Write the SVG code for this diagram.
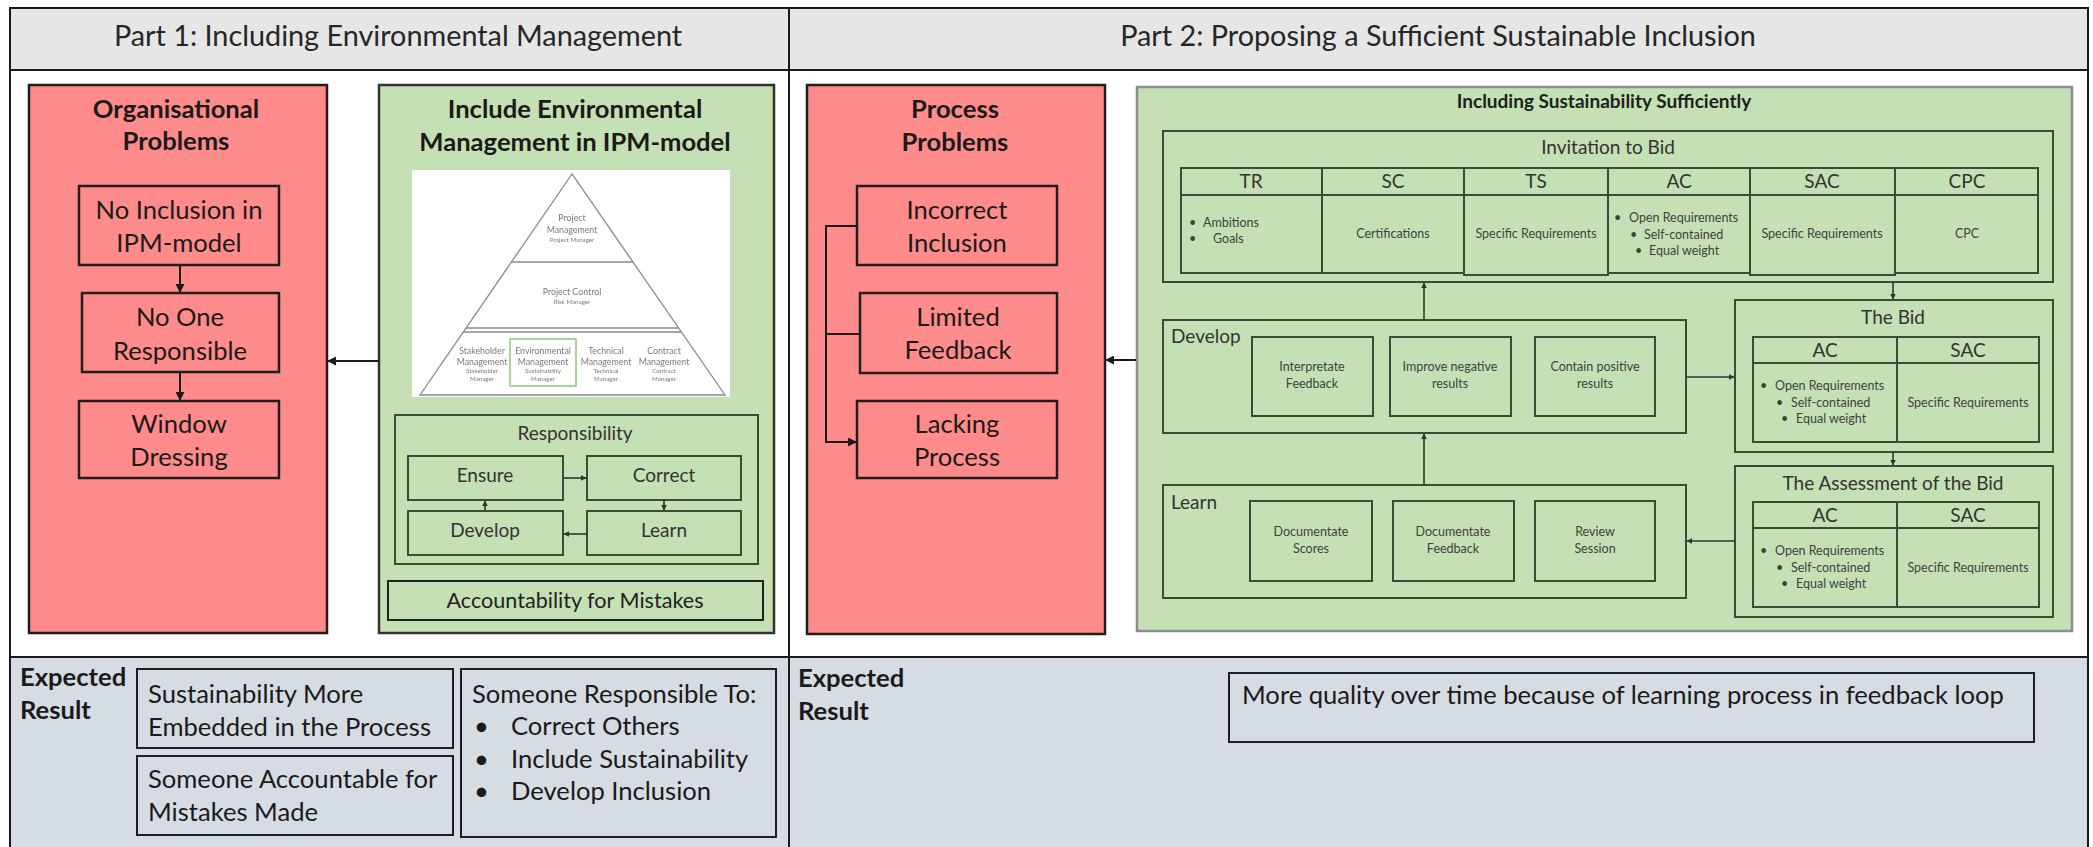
<svg xmlns="http://www.w3.org/2000/svg" width="2093" height="847" viewBox="0 0 2093 847">
  <defs>
    <style>
      text { font-family: Lato, "Liberation Sans", sans-serif; fill: #1a1a1a; }
      .hdr { font-size: 28.8px; fill: #262626; text-anchor: middle; }
      .big { font-size: 25.6px; text-anchor: middle; }
      .bigl { font-size: 25.6px; }
      .bold { font-weight: bold; }
      .med { font-size: 19px; fill: #333333; text-anchor: middle; }
      .medl { font-size: 19px; fill: #333333; }
      .sm { font-size: 12.5px; fill: #404040; text-anchor: middle; }
      .sml { font-size: 12.5px; fill: #404040; }
      .py { font-size: 8.8px; fill: #7a7a7a; text-anchor: middle; }
      .pys { font-size: 6.2px; fill: #7a7a7a; text-anchor: middle; }
      .red { fill: #FF8B8B; stroke: #1f1f1f; stroke-width: 2.5; }
      .rbox { fill: none; stroke: #1f1f1f; stroke-width: 2.5; }
      .grn { fill: #C5E0B4; stroke: #333333; stroke-width: 2.5; }
      .gbox { fill: none; stroke: #3d4a3a; stroke-width: 2; }
      .ebox { fill: none; stroke: #1f1f1f; stroke-width: 2; }
      .conn { fill: none; stroke: #1a1a1a; stroke-width: 2; marker-end: url(#ah); }
      .conns { fill: none; stroke: #333333; stroke-width: 1.6; marker-end: url(#ahs); }
      .pyl { fill: none; stroke: #8a8a8a; stroke-width: 1.3; }
    </style>
    <marker id="ah" viewBox="0 0 10 10" refX="9" refY="5" markerWidth="9" markerHeight="9" markerUnits="userSpaceOnUse" orient="auto">
      <path d="M0,0 L10,5 L0,10 z" fill="#1a1a1a"/>
    </marker>
    <marker id="ahs" viewBox="0 0 10 10" refX="9" refY="5" markerWidth="6" markerHeight="6" markerUnits="userSpaceOnUse" orient="auto">
      <path d="M0,0 L10,5 L0,10 z" fill="#333333"/>
    </marker>
    <filter id="soft" x="-5%" y="-5%" width="110%" height="110%">
      <feGaussianBlur stdDeviation="0.35"/>
    </filter>
  </defs>

  <!-- frame, header band and expected-result band -->
  <g id="frame">
    <rect x="10" y="8" width="2078" height="840" fill="#ffffff" stroke="#1a1a1a" stroke-width="2"/>
    <rect x="10" y="8" width="2078" height="62" fill="#E7E6E6" stroke="#1a1a1a" stroke-width="2"/>
    <rect x="10" y="657" width="2078" height="192" fill="#D6DCE4" stroke="#1a1a1a" stroke-width="2"/>
    <line x1="789" y1="8" x2="789" y2="847" stroke="#1a1a1a" stroke-width="2"/>
    <text class="hdr" x="398" y="46">Part 1: Including Environmental Management</text>
    <text class="hdr" x="1438" y="46">Part 2: Proposing a Sufficient Sustainable Inclusion</text>
  </g>

  <!-- Part 1: organisational problems -->
  <g id="org-problems">
    <rect class="red" x="29" y="85" width="298" height="548"/>
    <text class="big bold" x="176" y="118">Organisational</text>
    <text class="big bold" x="176" y="150">Problems</text>
  </g>
  <g id="no-inclusion">
    <rect class="rbox" x="79" y="186" width="200" height="79"/>
    <text class="big" x="179" y="219">No Inclusion in</text>
    <text class="big" x="179" y="252">IPM-model</text>
  </g>
  <g id="no-one-responsible">
    <rect class="rbox" x="82" y="293" width="197" height="79"/>
    <text class="big" x="180" y="326">No One</text>
    <text class="big" x="180" y="360">Responsible</text>
  </g>
  <g id="window-dressing">
    <rect class="rbox" x="79" y="401" width="200" height="77"/>
    <text class="big" x="179" y="433">Window</text>
    <text class="big" x="179" y="466">Dressing</text>
  </g>

  <!-- Part 1: environmental management in the IPM-model -->
  <g id="include-env">
    <rect class="grn" x="379" y="85" width="395" height="548"/>
    <text class="big bold" x="575" y="118">Include Environmental</text>
    <text class="big bold" x="575" y="151">Management in IPM-model</text>
  </g>
  <g id="ipm-pyramid" filter="url(#soft)">
    <rect x="412" y="170" width="318" height="227" fill="#ffffff"/>
    <polygon class="pyl" points="572,174 420,395 725,395"/>
    <line class="pyl" x1="511" y1="262" x2="633" y2="262"/>
    <line class="pyl" x1="466" y1="328" x2="678" y2="328"/>
    <line class="pyl" x1="463" y1="332" x2="681" y2="332"/>
    <rect x="510" y="339" width="66" height="47" fill="none" stroke="#8fc97a" stroke-width="1.5"/>
    <text class="py" x="572" y="221">Project</text>
    <text class="py" x="572" y="233">Management</text>
    <text class="pys" x="572" y="242">Project Manager</text>
    <text class="py" x="572" y="295">Project Control</text>
    <text class="pys" x="572" y="304">Risk Manager</text>
    <text class="py" x="482" y="354">Stakeholder</text>
    <text class="py" x="482" y="365">Management</text>
    <text class="pys" x="482" y="373">Stakeholder</text>
    <text class="pys" x="482" y="381">Manager</text>
    <text class="py" x="543" y="354">Environmental</text>
    <text class="py" x="543" y="365">Management</text>
    <text class="pys" x="543" y="373">Sustainability</text>
    <text class="pys" x="543" y="381">Manager</text>
    <text class="py" x="606" y="354">Technical</text>
    <text class="py" x="606" y="365">Management</text>
    <text class="pys" x="606" y="373">Technical</text>
    <text class="pys" x="606" y="381">Manager</text>
    <text class="py" x="664" y="354">Contract</text>
    <text class="py" x="664" y="365">Management</text>
    <text class="pys" x="664" y="373">Contract</text>
    <text class="pys" x="664" y="381">Manager</text>
  </g>
  <g id="responsibility">
    <rect class="gbox" x="395" y="415" width="363" height="149"/>
    <text class="med" x="575" y="440">Responsibility</text>
  </g>
  <g id="ensure">
    <rect class="gbox" x="408" y="456" width="155" height="44"/>
    <text class="med" x="485" y="482">Ensure</text>
  </g>
  <g id="correct">
    <rect class="gbox" x="587" y="456" width="154" height="44"/>
    <text class="med" x="664" y="482">Correct</text>
  </g>
  <g id="develop-1">
    <rect class="gbox" x="408" y="511" width="155" height="44"/>
    <text class="med" x="485" y="537">Develop</text>
  </g>
  <g id="learn-1">
    <rect class="gbox" x="587" y="511" width="154" height="44"/>
    <text class="med" x="664" y="537">Learn</text>
  </g>
  <g id="accountability">
    <rect class="ebox" x="388" y="581" width="375" height="39" stroke-width="2.5"/>
    <text class="med" x="575" y="608" style="font-size:21.6px;fill:#1f1f1f">Accountability for Mistakes</text>
  </g>

  <!-- Part 2: process problems -->
  <g id="process-problems">
    <rect class="red" x="807" y="85" width="298" height="549"/>
    <text class="big bold" x="955" y="118">Process</text>
    <text class="big bold" x="955" y="151">Problems</text>
  </g>
  <g id="incorrect-inclusion">
    <rect class="rbox" x="857" y="186" width="200" height="79"/>
    <text class="big" x="957" y="219">Incorrect</text>
    <text class="big" x="957" y="252">Inclusion</text>
  </g>
  <g id="limited-feedback">
    <rect class="rbox" x="860" y="293" width="197" height="80"/>
    <text class="big" x="958" y="326">Limited</text>
    <text class="big" x="958" y="359">Feedback</text>
  </g>
  <g id="lacking-process">
    <rect class="rbox" x="857" y="401" width="200" height="77"/>
    <text class="big" x="957" y="433">Lacking</text>
    <text class="big" x="957" y="466">Process</text>
  </g>

  <!-- Part 2: including sustainability sufficiently -->
  <g id="sustainability-panel">
    <rect x="1137" y="87" width="935" height="544" fill="#C5E0B4" stroke="#8c8c8c" stroke-width="2.5"/>
    <text class="med bold" x="1604" y="108" style="fill:#1f1f1f">Including Sustainability Sufficiently</text>
  </g>
  <g id="invitation">
    <rect class="gbox" x="1163" y="131" width="890" height="151"/>
    <text class="med" x="1608" y="154">Invitation to Bid</text>
    <rect class="gbox" x="1181" y="168" width="857" height="27"/>
    <rect class="gbox" x="1181" y="195" width="141" height="78"/>
    <rect class="gbox" x="1322" y="195" width="142" height="78"/>
    <rect class="gbox" x="1464" y="195" width="144" height="80"/>
    <rect class="gbox" x="1608" y="195" width="142" height="78"/>
    <rect class="gbox" x="1750" y="195" width="145" height="80"/>
    <rect class="gbox" x="1895" y="195" width="143" height="78"/>
    <line class="gbox" x1="1322" y1="168" x2="1322" y2="195"/>
    <line class="gbox" x1="1464" y1="168" x2="1464" y2="195"/>
    <line class="gbox" x1="1608" y1="168" x2="1608" y2="195"/>
    <line class="gbox" x1="1750" y1="168" x2="1750" y2="195"/>
    <line class="gbox" x1="1895" y1="168" x2="1895" y2="195"/>
    <text class="med" x="1251" y="188">TR</text>
    <text class="med" x="1393" y="188">SC</text>
    <text class="med" x="1536" y="188">TS</text>
    <text class="med" x="1679" y="188">AC</text>
    <text class="med" x="1822" y="188">SAC</text>
    <text class="med" x="1967" y="188">CPC</text>
    <text class="sml" x="1189" y="227">•</text>
    <text class="sml" x="1203" y="227">Ambitions</text>
    <text class="sml" x="1189" y="243">•</text>
    <text class="sml" x="1213" y="243">Goals</text>
    <text class="sm" x="1393" y="238">Certifications</text>
    <text class="sm" x="1536" y="238">Specific Requirements</text>
    <text class="sml" x="1614" y="222">•</text>
    <text class="sml" x="1629" y="222">Open Requirements</text>
    <text class="sml" x="1630" y="239">•</text>
    <text class="sml" x="1644" y="239">Self-contained</text>
    <text class="sml" x="1635" y="255">•</text>
    <text class="sml" x="1649" y="255">Equal weight</text>
    <text class="sm" x="1822" y="238">Specific Requirements</text>
    <text class="sm" x="1967" y="238">CPC</text>
  </g>
  <g id="develop-2">
    <rect class="gbox" x="1163" y="320" width="523" height="113"/>
    <text class="medl" x="1171" y="343">Develop</text>
    <rect class="gbox" x="1252" y="337" width="121" height="79"/>
    <text class="sm" x="1312" y="371">Interpretate</text>
    <text class="sm" x="1312" y="388">Feedback</text>
    <rect class="gbox" x="1390" y="337" width="121" height="79"/>
    <text class="sm" x="1450" y="371">Improve negative</text>
    <text class="sm" x="1450" y="388">results</text>
    <rect class="gbox" x="1535" y="337" width="120" height="79"/>
    <text class="sm" x="1595" y="371">Contain positive</text>
    <text class="sm" x="1595" y="388">results</text>
  </g>
  <g id="learn-2">
    <rect class="gbox" x="1163" y="485" width="523" height="113"/>
    <text class="medl" x="1171" y="509">Learn</text>
    <rect class="gbox" x="1250" y="501" width="122" height="80"/>
    <text class="sm" x="1311" y="536">Documentate</text>
    <text class="sm" x="1311" y="553">Scores</text>
    <rect class="gbox" x="1393" y="501" width="121" height="80"/>
    <text class="sm" x="1453" y="536">Documentate</text>
    <text class="sm" x="1453" y="553">Feedback</text>
    <rect class="gbox" x="1535" y="501" width="120" height="80"/>
    <text class="sm" x="1595" y="536">Review</text>
    <text class="sm" x="1595" y="553">Session</text>
  </g>
  <g id="the-bid">
    <rect class="gbox" x="1735" y="300" width="318" height="152"/>
    <text class="med" x="1893" y="324">The Bid</text>
    <rect class="gbox" x="1753" y="337" width="286" height="105"/>
    <line class="gbox" x1="1753" y1="363" x2="2039" y2="363"/>
    <line class="gbox" x1="1897" y1="337" x2="1897" y2="442"/>
    <text class="med" x="1825" y="357">AC</text>
    <text class="med" x="1968" y="357">SAC</text>
    <text class="sml" x="1760" y="390">•</text>
    <text class="sml" x="1775" y="390">Open Requirements</text>
    <text class="sml" x="1776" y="407">•</text>
    <text class="sml" x="1791" y="407">Self-contained</text>
    <text class="sml" x="1781" y="423">•</text>
    <text class="sml" x="1796" y="423">Equal weight</text>
    <text class="sm" x="1968" y="407">Specific Requirements</text>
  </g>
  <g id="assessment">
    <rect class="gbox" x="1735" y="466" width="318" height="151"/>
    <text class="med" x="1893" y="490">The Assessment of the Bid</text>
    <rect class="gbox" x="1753" y="502" width="286" height="105"/>
    <line class="gbox" x1="1753" y1="528" x2="2039" y2="528"/>
    <line class="gbox" x1="1897" y1="502" x2="1897" y2="607"/>
    <text class="med" x="1825" y="522">AC</text>
    <text class="med" x="1968" y="522">SAC</text>
    <text class="sml" x="1760" y="555">•</text>
    <text class="sml" x="1775" y="555">Open Requirements</text>
    <text class="sml" x="1776" y="572">•</text>
    <text class="sml" x="1791" y="572">Self-contained</text>
    <text class="sml" x="1781" y="588">•</text>
    <text class="sml" x="1796" y="588">Equal weight</text>
    <text class="sm" x="1968" y="572">Specific Requirements</text>
  </g>

  <!-- expected results -->
  <g id="expected-1">
    <text class="bigl bold" x="20" y="686">Expected</text>
    <text class="bigl bold" x="20" y="719">Result</text>
  </g>
  <g id="result-embedded">
    <rect class="ebox" x="137" y="669" width="316" height="79"/>
    <text class="bigl" x="148" y="703">Sustainability More</text>
    <text class="bigl" x="148" y="736">Embedded in the Process</text>
  </g>
  <g id="result-accountable">
    <rect class="ebox" x="137" y="756" width="316" height="79"/>
    <text class="bigl" x="148" y="788">Someone Accountable for</text>
    <text class="bigl" x="148" y="821">Mistakes Made</text>
  </g>
  <g id="result-responsible">
    <rect class="ebox" x="461" y="669" width="315" height="168"/>
    <text class="bigl" x="472" y="703">Someone Responsible To:</text>
    <text class="bigl" x="474" y="735">•</text>
    <text class="bigl" x="511" y="735">Correct Others</text>
    <text class="bigl" x="474" y="768">•</text>
    <text class="bigl" x="511" y="768">Include Sustainability</text>
    <text class="bigl" x="474" y="800">•</text>
    <text class="bigl" x="511" y="800">Develop Inclusion</text>
  </g>
  <g id="expected-2">
    <text class="bigl bold" x="798" y="687">Expected</text>
    <text class="bigl bold" x="798" y="720">Result</text>
  </g>
  <g id="result-quality">
    <rect class="ebox" x="1229" y="673" width="805" height="69"/>
    <text class="bigl" x="1242" y="704">More quality over time because of learning process in feedback loop</text>
  </g>

  <!-- connectors -->
  <g id="connectors">
    <line class="conn" x1="180" y1="265" x2="180" y2="292"/>
    <line class="conn" x1="180" y1="372" x2="180" y2="400"/>
    <line class="conn" x1="379" y1="361" x2="328" y2="361"/>
    <line class="conns" x1="563" y1="478" x2="586" y2="478"/>
    <line class="conns" x1="664" y1="500" x2="664" y2="510"/>
    <line class="conns" x1="587" y1="534" x2="564" y2="534"/>
    <line class="conns" x1="485" y1="511" x2="485" y2="501"/>
    <path class="conn" d="M857,226 H826 V442 H856"/>
    <path d="M860,334 H826" fill="none" stroke="#1a1a1a" stroke-width="2"/>
    <line class="conn" x1="1136" y1="360" x2="1106" y2="360"/>
    <line class="conns" x1="1424" y1="320" x2="1424" y2="283"/>
    <line class="conns" x1="1893" y1="282" x2="1893" y2="299"/>
    <line class="conns" x1="1686" y1="377" x2="1734" y2="377"/>
    <line class="conns" x1="1893" y1="452" x2="1893" y2="465"/>
    <line class="conns" x1="1735" y1="541" x2="1687" y2="541"/>
    <line class="conns" x1="1424" y1="485" x2="1424" y2="434"/>
  </g>
</svg>
